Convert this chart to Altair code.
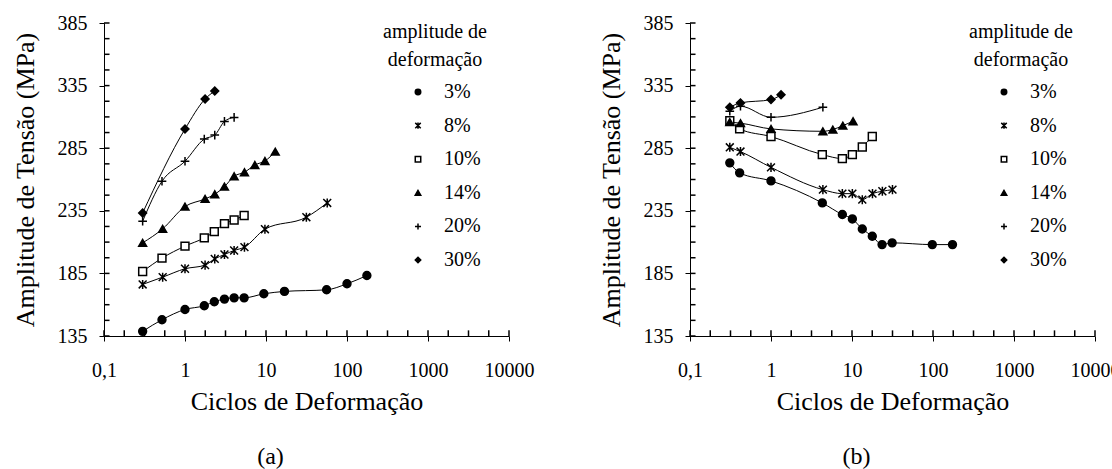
import altair as alt
import pandas as pd

FONT = "Liberation Serif, Times New Roman, DejaVu Serif, serif"

series = ["3%", "8%", "10%", "14%", "20%", "30%"]

# ---------- panel (a) ----------
a_x_3 = [0.3, 0.52, 1.0, 1.73, 2.3, 3.07, 4.04, 5.37, 9.4, 16.9, 56, 100, 176]
a_y_3 = [138.7, 148.0, 156.2, 159.2, 162.4, 164.5, 165.5, 165.5, 168.7, 170.6, 171.9, 176.7, 183.3]
a_x_8 = [0.3, 0.53, 1.0, 1.77, 2.33, 3.07, 4.04, 5.42, 9.7, 31.5, 57]
a_y_8 = [176.2, 182.0, 188.7, 191.6, 196.6, 200.1, 203.3, 206.0, 220.3, 229.9, 241.3]
a_x_10 = [0.3, 0.52, 1.0, 1.73, 2.3, 3.07, 4.04, 5.37]
a_y_10 = [186.5, 197.2, 206.8, 213.4, 218.4, 224.8, 227.7, 231.2]
a_x_14 = [0.3, 0.53, 1.0, 1.77, 2.33, 3.07, 4.04, 5.42, 7.28, 9.7, 13]
a_y_14 = [209.4, 220.6, 238.4, 244.5, 248.2, 254.3, 262.6, 265.8, 271.6, 274.8, 282.2]
a_x_20 = [0.3, 0.52, 1.0, 1.73, 2.33, 3.07, 4.04]
a_y_20 = [226.7, 258.6, 274.6, 292.3, 295.5, 306.4, 309.6]
a_x_30 = [0.3, 1.0, 1.77, 2.33]
a_y_30 = [233.3, 300.3, 324.3, 330.7]

# ---------- panel (b) ----------
b_x_3 = [0.31, 0.41, 1.0, 4.3, 7.6, 10.1, 13.4, 17.8, 23.5, 31.3, 98, 174]
b_y_3 = [273.3, 265.3, 258.9, 241.3, 232.0, 228.5, 220.5, 214.7, 208.0, 209.4, 208.0, 208.0]
b_x_8 = [0.31, 0.42, 1.0, 4.37, 7.6, 10.1, 13.4, 17.9, 23.7, 31.6]
b_y_8 = [285.7, 282.3, 269.7, 251.9, 248.7, 248.7, 243.9, 248.7, 250.6, 251.9]
b_x_10 = [0.31, 0.41, 1.0, 4.3, 7.6, 10.1, 13.4, 17.8]
b_y_10 = [307.0, 300.4, 294.3, 279.9, 276.7, 279.9, 286.0, 294.3]
b_x_14 = [0.31, 0.42, 1.0, 4.37, 5.8, 7.7, 10.3]
b_y_14 = [305.8, 305.0, 300.4, 298.5, 299.9, 303.0, 306.5]
b_x_20 = [0.31, 0.42, 1.0, 4.37]
b_y_20 = [314.5, 318.5, 309.7, 317.7]
b_x_30 = [0.31, 0.42, 1.0, 1.33]
b_y_30 = [317.7, 321.2, 323.8, 327.6]

x_major = [0.1, 1, 10, 100, 1000, 10000]
x_minor = [10 ** (k / 4) for k in range(-4, 17)]
y_major = [135, 185, 235, 285, 335, 385]
y_minor = [135 + 12.5 * k for k in range(21)]

shape_range = [
    "circle",
    "M-1,-1L1,1M-1,1L1,-1M0,-1.15L0,1.15",
    "square",
    "triangle-up",
    "M-1.1,0L1.1,0M0,-1.1L0,1.1",
    "diamond",
]
fill_range = ["black", "transparent", "white", "black", "transparent", "black"]


def frame(xs_list, ys_list):
    rows = []
    for name, xs, ys in zip(series, xs_list, ys_list):
        for i, (xv, yv) in enumerate(zip(xs, ys)):
            rows.append({"series": name, "i": i, "x": xv, "y": yv})
    return pd.DataFrame(rows)


df_a = frame([a_x_3, a_x_8, a_x_10, a_x_14, a_x_20, a_x_30],
             [a_y_3, a_y_8, a_y_10, a_y_14, a_y_20, a_y_30])
df_b = frame([b_x_3, b_x_8, b_x_10, b_x_14, b_x_20, b_x_30],
             [b_y_3, b_y_8, b_y_10, b_y_14, b_y_20, b_y_30])
df_xt = pd.DataFrame({"tx": x_minor})
df_yt = pd.DataFrame({"ty": y_minor})


def panel(df, caption, legend_x):
    xscale = alt.Scale(type="log", domain=[0.1, 10000], nice=False)
    yscale = alt.Scale(domain=[135, 385], nice=False, zero=False)

    x_main = alt.X(
        "x:Q", scale=xscale,
        axis=alt.Axis(
            orient="bottom", values=x_major, tickSize=5, grid=False,
            labelExpr="replace(toString(datum.value), '.', ',')",
            title="Ciclos de Deformação",
            domainColor="black", tickColor="black", domainWidth=1, tickWidth=1,
            labelFont=FONT, labelFontSize=20, labelColor="black",
            labelPadding=19, labelFlush=False, labelOverlap=False,
            titleFont=FONT, titleFontSize=26, titleFontWeight="normal",
            titleColor="black", titlePadding=8,
        ),
    )
    y_main = alt.Y(
        "y:Q", scale=yscale,
        axis=alt.Axis(
            orient="left", values=y_major, tickSize=5, grid=False,
            title="Amplitude de Tensão (MPa)",
            domainColor="black", tickColor="black", domainWidth=1, tickWidth=1,
            labelFont=FONT, labelFontSize=20, labelColor="black",
            labelPadding=12, labelFlush=False, labelOverlap=False,
            titleFont=FONT, titleFontSize=26, titleFontWeight="normal",
            titleColor="black", titlePadding=19,
        ),
    )

    legend = alt.Legend(
        title=["amplitude de", "deformação"],
        orient="none", legendX=legend_x, legendY=-1,
        titleFont=FONT, titleFontSize=20, titleFontWeight="normal",
        titleColor="black", titleAnchor="middle", titleAlign="center",
        titleLineHeight=28, titlePadding=12,
        labelFont=FONT, labelFontSize=20, labelColor="black", labelOffset=16,
        symbolSize=30, symbolStrokeColor="black", symbolStrokeWidth=1.5,
        symbolOffset=18, rowPadding=13.6, padding=0,
    )

    lines = alt.Chart(df).mark_line(
        color="black", strokeWidth=1, interpolate="monotone"
    ).encode(x=x_main, y=y_main, detail="series:N", order="i:Q")

    # inward half of the axis ticks (Excel-style crossing / inside ticks)
    xticks = alt.Chart(df_xt).transform_calculate(
        y="135", y2="139.5"
    ).mark_rule(color="black", strokeWidth=1.5, opacity=1).encode(
        x=alt.X("tx:Q", scale=xscale, axis=None),
        y=alt.Y("y:Q", scale=yscale, axis=None),
        y2="y2:Q",
    )
    yticks = alt.Chart(df_yt).transform_calculate(
        x="0.1", x2="0.117"
    ).mark_rule(color="black", strokeWidth=1.5, opacity=1).encode(
        y=alt.Y("ty:Q", scale=yscale, axis=None),
        x=alt.X("x:Q", scale=xscale, axis=None),
        x2="x2:Q",
    )

    points = alt.Chart(df).mark_point(
        filled=False, opacity=1, size=62, strokeWidth=1.5
    ).encode(
        x=alt.X("x:Q", scale=xscale, axis=None),
        y=alt.Y("y:Q", scale=yscale, axis=None),
        shape=alt.Shape("series:N", scale=alt.Scale(domain=series, range=shape_range), legend=legend),
        fill=alt.Fill("series:N", scale=alt.Scale(domain=series, range=fill_range), legend=legend),
        stroke=alt.Stroke("series:N", scale=alt.Scale(domain=series, range=["black"] * 6), legend=legend),
    )

    return alt.layer(lines, points, xticks, yticks).resolve_axis(
        x="independent", y="independent"
    ).properties(
        width=405, height=313,
        title=alt.TitleParams(caption, orient="bottom", anchor="middle",
                              font=FONT, fontSize=24, fontWeight="normal",
                              color="black", offset=31, dx=-36),
    )


left = panel(df_a, "(a)", 279)
right = panel(df_b, "(b)", 279)

chart = alt.hconcat(left, right, spacing=64).resolve_scale(
    shape="independent", fill="independent", stroke="independent"
).properties(
    padding={"left": 12, "top": 13, "right": -8, "bottom": 0},
    background="white",
).configure_view(stroke=None)

chart.save("out.html", embed_options={"renderer": "svg", "actions": False})
